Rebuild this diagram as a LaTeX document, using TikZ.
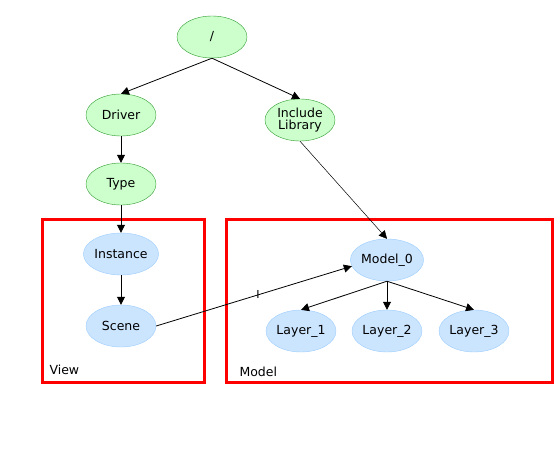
\documentclass[tikz,border=0pt]{standalone}
\usepackage{fontspec}
\setmainfont{DejaVu Sans}
\usetikzlibrary{shapes.geometric,arrows.meta}
\definecolor{gfill}{HTML}{CCFFCC}
\definecolor{gdraw}{HTML}{2E9A2E}
\definecolor{bfill}{HTML}{CCE5FF}
\definecolor{bdraw}{HTML}{99CCFF}
\begin{document}
\begin{tikzpicture}[x=1pt,y=-1pt,
  every node/.style={font=\fontsize{12.5}{14}\selectfont},
  gnode/.style={ellipse,draw=gdraw,fill=gfill,minimum width=70pt,minimum height=42pt,inner sep=0pt,align=center},
  bnode/.style={ellipse,draw=bdraw,fill=bfill,minimum width=70pt,minimum height=42pt,inner sep=0pt,align=center},
  conn/.style={draw=black,line width=0.8pt,-{Triangle[length=8pt,width=8pt]}},
  region/.style={draw=red,line width=3pt}]
\useasboundingbox (0,0) rectangle (557,452);
\node[gnode] (root) at (212,37) {/};
\node[gnode] (driver) at (121,115) {Driver};
\node[gnode] (type) at (121,184) {Type};
\node[gnode] (inclib) at (300,120) {Include\\[-2pt]Library};
\node[bnode] (instance) at (121,254) {Instance};
\node[bnode] (scene) at (121,326) {Scene};
\node[bnode] (model0) at (387,260) {Model\_0};
\node[bnode] (layer1) at (301,331) {Layer\_1};
\node[bnode] (layer2) at (387,331) {Layer\_2};
\node[bnode] (layer3) at (474,331) {Layer\_3};
\draw[region] (42,219) rectangle (204,382);
\draw[region] (226,219) rectangle (552,382);
\node[anchor=base west] (viewlbl) at (46,374) {View};
\node[anchor=base west] (modellbl) at (236,376) {Model};
\draw[conn] (root.south) -- (driver.north);
\draw[conn] (root.south) -- (inclib.north);
\draw[conn] (driver.south) -- (type.north);
\draw[conn] (type.south) -- (instance.north);
\draw[conn] (instance.south) -- (scene.north);
\draw[conn,line width=0.5pt] (inclib.south) -- (model0.north);
\draw[conn] (model0.south) -- (layer1.north);
\draw[conn] (model0.south) -- (layer2.north);
\draw[conn] (model0.south) -- (layer3.north);
\draw[conn] (scene.east) -- node[pos=0.52,font=\fontsize{11}{12}\selectfont,inner sep=0pt] (ilbl) {I} (model0.190);
\end{tikzpicture}
\end{document}
